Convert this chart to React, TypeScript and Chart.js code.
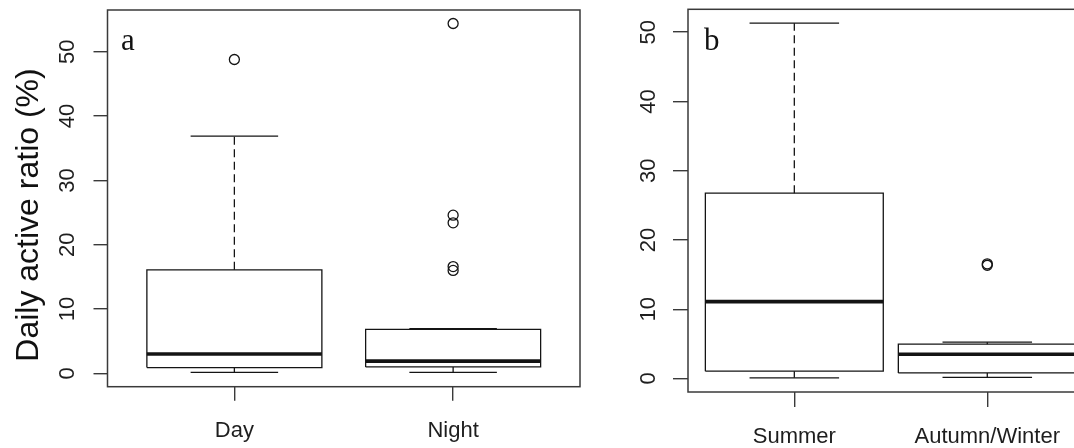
import React, { useEffect, useRef } from "react";
import { Chart, registerables } from "chart.js";

Chart.register(...registerables);

// Panel a: Day vs Night
const dayNightGroups = ["Day", "Night"];
const dayNightLowerWhisker = [0.15, 0.15];
const dayNightQ1 = [0.9, 1.0];
const dayNightMedian = [3.0, 1.9];
const dayNightQ3 = [16.1, 6.85];
const dayNightUpperWhisker = [36.9, 6.95];
const dayOutliers = [48.8];
const nightOutliers = [54.4, 24.6, 23.4, 16.6, 16.0];

// Panel b: Summer vs Autumn/Winter
const seasonGroups = ["Summer", "Autumn/Winter"];
const seasonLowerWhisker = [0.1, 0.17];
const seasonQ1 = [1.05, 0.8];
const seasonMedian = [11.1, 3.5];
const seasonQ3 = [26.75, 4.95];
const seasonUpperWhisker = [51.3, 5.25];
const summerOutliers: number[] = [];
const autumnWinterOutliers = [16.35, 16.55];

const yTickValues = [0, 10, 20, 30, 40, 50];
const yAxisTitle = "Daily active ratio (%)";

const INK = "#141414";
const FRAME = "#3a3a3a";

type BoxStats = {
  groups: string[];
  lo: number[];
  q1: number[];
  med: number[];
  q3: number[];
  hi: number[];
  outliers: number[][];
};

function boxDatasets(s: BoxStats, boxHalf: number, capHalf: number) {
  const sets: any[] = [];
  const line = (data: { x: number; y: number }[], width: number, dash: number[] = []) => ({
    data,
    showLine: true,
    borderColor: INK,
    borderWidth: width,
    borderDash: dash,
    pointRadius: 0,
    fill: false,
  });
  s.groups.forEach((_, i) => {
    const x = i + 1;
    sets.push(
      line(
        [
          { x: x - boxHalf, y: s.q1[i] },
          { x: x + boxHalf, y: s.q1[i] },
          { x: x + boxHalf, y: s.q3[i] },
          { x: x - boxHalf, y: s.q3[i] },
          { x: x - boxHalf, y: s.q1[i] },
        ],
        1.3
      )
    );
    sets.push(line([{ x, y: s.q3[i] }, { x, y: s.hi[i] }], 1.3, [8, 4.5]));
    sets.push(line([{ x, y: s.lo[i] }, { x, y: s.q1[i] }], 1.3, [8, 4.5]));
    sets.push(line([{ x: x - capHalf, y: s.hi[i] }, { x: x + capHalf, y: s.hi[i] }], 1.3));
    sets.push(line([{ x: x - capHalf, y: s.lo[i] }, { x: x + capHalf, y: s.lo[i] }], 1.3));
    sets.push(line([{ x: x - boxHalf, y: s.med[i] }, { x: x + boxHalf, y: s.med[i] }], 3.6));
    sets.push({
      data: s.outliers[i].map((v) => ({ x, y: v })),
      showLine: false,
      pointRadius: 5,
      pointStyle: "circle",
      borderColor: INK,
      borderWidth: 1.3,
      backgroundColor: "rgba(0,0,0,0)",
    });
  });
  return sets;
}

type PanelCfg = {
  stats: BoxStats;
  letter: string;
  showTitle: boolean;
  xMin: number;
  xMax: number;
  yMin: number;
  yMax: number;
  boxHalf: number;
  capHalf: number;
  tickLen: number;
  padding: { left: number; right: number; top: number; bottom: number };
  xLabelBaseline: number;
  offsetLeft: number;
};

function makePanelPlugin(cfg: PanelCfg) {
  return {
    id: "panelDecor" + cfg.letter,
    afterDraw(chart: any) {
      const { ctx, chartArea, scales } = chart;
      const xs = scales.x;
      const ys = scales.y;
      ctx.save();
      // frame around the plotting region
      ctx.strokeStyle = FRAME;
      ctx.lineWidth = 1.5;
      ctx.strokeRect(chartArea.left, chartArea.top, chartArea.right - chartArea.left, chartArea.bottom - chartArea.top);

      // vertical y tick labels
      ctx.fillStyle = "#1e1e1e";
      ctx.font = '22px "Liberation Sans", Arial, sans-serif';
      ctx.textAlign = "center";
      ctx.textBaseline = "alphabetic";
      ys.ticks.forEach((t: any) => {
        const py = ys.getPixelForValue(t.value);
        ctx.save();
        ctx.translate(chartArea.left - 33.5, py);
        ctx.rotate(-Math.PI / 2);
        ctx.fillText(String(t.value), 0, 0);
        ctx.restore();
      });

      // category labels under the x ticks
      xs.ticks.forEach((t: any) => {
        const px = xs.getPixelForValue(t.value);
        ctx.fillText(cfg.stats.groups[t.value - 1], px, cfg.xLabelBaseline);
      });

      // panel letter
      ctx.font = '31px "Liberation Serif", "Times New Roman", serif';
      ctx.textAlign = "left";
      ctx.fillStyle = "#111";
      ctx.fillText(cfg.letter, chartArea.left + (cfg.letter === "a" ? 13.5 : 16), 50);

      if (cfg.showTitle) {
        ctx.font = '32px "Liberation Sans", Arial, sans-serif';
        ctx.textAlign = "center";
        ctx.save();
        ctx.translate(37.5, 215);
        ctx.rotate(-Math.PI / 2);
        ctx.fillText(yAxisTitle, 0, 0);
        ctx.restore();
      }
      ctx.restore();
    },
  };
}

function Panel({ cfg, width }: { cfg: PanelCfg; width: number }) {
  const ref = useRef<HTMLCanvasElement | null>(null);
  useEffect(() => {
    if (!ref.current) return;
    const tickGrid = {
      display: true,
      drawOnChartArea: false,
      drawTicks: true,
      tickLength: cfg.tickLen,
      color: FRAME,
      tickColor: FRAME,
      lineWidth: 1.4,
    };
    const chart = new Chart(ref.current, {
      type: "scatter",
      data: { datasets: boxDatasets(cfg.stats, cfg.boxHalf, cfg.capHalf) },
      options: {
        animation: false,
        responsive: false,
        events: [],
        layout: { padding: cfg.padding },
        plugins: { legend: { display: false }, tooltip: { enabled: false } },
        scales: {
          x: {
            type: "linear",
            min: cfg.xMin,
            max: cfg.xMax,
            grid: tickGrid,
            border: { display: false },
            ticks: { display: false },
            afterBuildTicks: (s: any) => {
              s.ticks = cfg.stats.groups.map((_, i) => ({ value: i + 1 }));
            },
            afterFit: (s: any) => {
              s.height = cfg.tickLen;
            },
          },
          y: {
            type: "linear",
            min: cfg.yMin,
            max: cfg.yMax,
            grid: tickGrid,
            border: { display: false },
            ticks: { display: false },
            afterBuildTicks: (s: any) => {
              s.ticks = yTickValues.map((v) => ({ value: v }));
            },
            afterFit: (s: any) => {
              s.width = cfg.tickLen;
            },
          },
        },
      } as any,
      plugins: [makePanelPlugin(cfg)],
    });
    return () => chart.destroy();
  }, [cfg]);
  return (
    <canvas
      ref={ref}
      width={width}
      height={448}
      style={{ position: "absolute", left: cfg.offsetLeft, top: 0, width, height: 448, display: "block" }}
    />
  );
}

const panelA: PanelCfg = {
  stats: {
    groups: dayNightGroups,
    lo: dayNightLowerWhisker,
    q1: dayNightQ1,
    med: dayNightMedian,
    q3: dayNightQ3,
    hi: dayNightUpperWhisker,
    outliers: [dayOutliers, nightOutliers],
  },
  letter: "a",
  showTitle: true,
  xMin: 0.42,
  xMax: 2.58,
  yMin: -2.08,
  yMax: 56.5,
  boxHalf: 0.4,
  capHalf: 0.2,
  tickLen: 14,
  padding: { left: 93.5, right: 10, top: 10, bottom: 47.3 },
  xLabelBaseline: 436.5,
  offsetLeft: 0,
};

const panelB: PanelCfg = {
  stats: {
    groups: seasonGroups,
    lo: seasonLowerWhisker,
    q1: seasonQ1,
    med: seasonMedian,
    q3: seasonQ3,
    hi: seasonUpperWhisker,
    outliers: [summerOutliers, autumnWinterOutliers],
  },
  letter: "b",
  showTitle: false,
  xMin: 0.449,
  xMax: 2.58,
  yMin: -1.95,
  yMax: 53.3,
  boxHalf: 0.461,
  capHalf: 0.232,
  tickLen: 15,
  padding: { left: 83, right: 10.8, top: 9.3, bottom: 41 },
  xLabelBaseline: 442.5,
  offsetLeft: 590,
};

export default function App() {
  return (
    <div
      style={{
        position: "absolute",
        left: 0,
        top: 0,
        width: 1074,
        height: 448,
        overflow: "hidden",
        background: "#fff",
      }}
    >
      <Panel cfg={panelA} width={590} />
      <Panel cfg={panelB} width={520} />
    </div>
  );
}
